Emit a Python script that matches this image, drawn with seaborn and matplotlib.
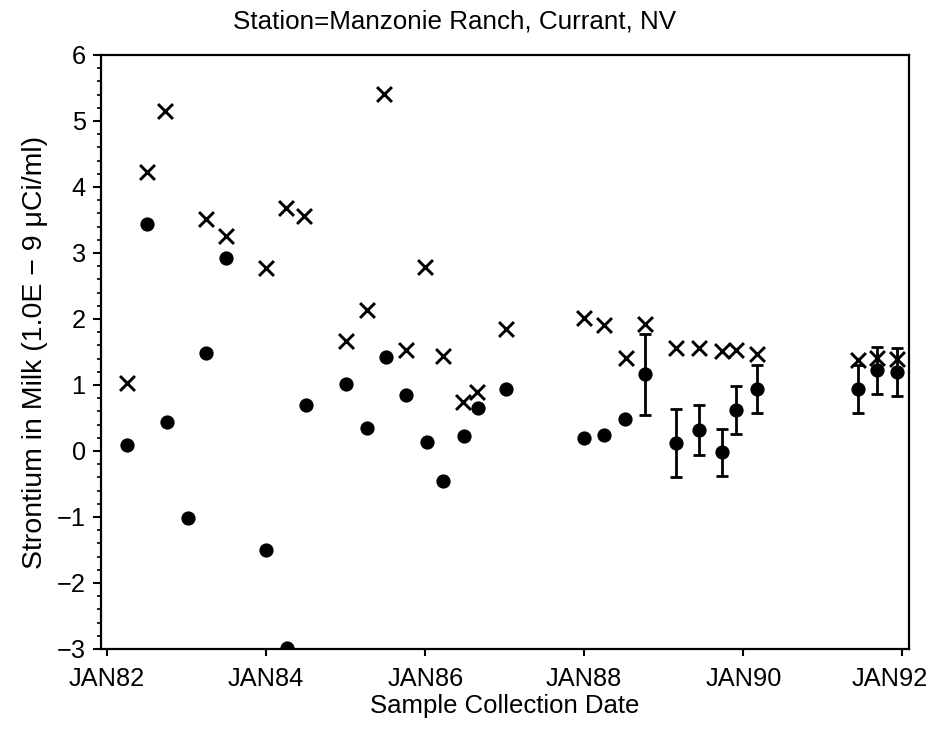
import numpy as np
import pandas as pd
import matplotlib
matplotlib.use("Agg")
import matplotlib.pyplot as plt
import matplotlib.dates as mdates
import matplotlib.transforms as mtransforms
from matplotlib.ticker import MultipleLocator, FixedLocator, FixedFormatter
import seaborn as sns

# Measured strontium concentration (dots); error given only for later samples
meas_dates = ["1982-04-01", "1982-07-01", "1982-10-01", "1983-01-08", "1983-04-01",
              "1983-07-01", "1984-01-01", "1984-04-05", "1984-07-01", "1985-01-01",
              "1985-04-08", "1985-07-05", "1985-10-05", "1986-01-08", "1986-03-25",
              "1986-06-28", "1986-09-01", "1987-01-05", "1988-01-01", "1988-04-01",
              "1988-07-08", "1988-10-08", "1989-02-24", "1989-06-13", "1989-09-27",
              "1989-11-28", "1990-03-03", "1991-06-13", "1991-09-09", "1991-12-08"]
meas_values = [0.09, 3.44, 0.44, -1.02, 1.49, 2.92, -1.50, -2.98, 0.70, 1.01,
               0.35, 1.42, 0.85, 0.14, -0.45, 0.23, 0.65, 0.94, 0.20, 0.24,
               0.49, 1.16, 0.12, 0.32, -0.02, 0.62, 0.94, 0.94, 1.22, 1.20]
meas_error = [np.nan] * 21 + [0.61, 0.51, 0.38, 0.36, 0.36, 0.36, 0.37, 0.36, 0.36]

# Minimum detectable activity for each sample (crosses)
mda_dates = ["1982-04-01", "1982-07-01", "1982-09-24", "1983-04-01", "1983-07-01",
             "1984-01-01", "1984-04-01", "1984-06-22", "1985-01-01", "1985-04-08",
             "1985-06-26", "1985-10-05", "1986-01-01", "1986-03-25", "1986-06-25",
             "1986-08-29", "1987-01-05", "1988-01-01", "1988-04-01", "1988-07-12",
             "1988-10-08", "1989-02-24", "1989-06-13", "1989-09-27", "1989-11-28",
             "1990-03-03", "1991-06-13", "1991-09-09", "1991-12-08"]
mda_values = [1.03, 4.23, 5.15, 3.52, 3.26, 2.77, 3.68, 3.56, 1.67, 2.13,
              5.41, 1.53, 2.79, 1.44, 0.74, 0.89, 1.85, 2.01, 1.91, 1.41,
              1.92, 1.56, 1.56, 1.51, 1.53, 1.47, 1.38, 1.41, 1.39]

tick_years = [1982, 1984, 1986, 1988, 1990, 1992]
tick_labels = ["JAN82", "JAN84", "JAN86", "JAN88", "JAN90", "JAN92"]

meas = pd.DataFrame({"date": pd.to_datetime(meas_dates), "value": meas_values,
                     "err": meas_error})
mda = pd.DataFrame({"date": pd.to_datetime(mda_dates), "value": mda_values})

sns.set_style("ticks")
plt.rcParams["font.family"] = ["Liberation Sans", "DejaVu Sans"]
plt.rcParams["axes.unicode_minus"] = True
plt.rcParams["text.color"] = "black"
plt.rcParams["axes.labelcolor"] = "black"

fig = plt.figure(figsize=(9.36, 7.33), dpi=100)
ax = fig.add_axes([101 / 936, 1 - 649 / 733, 808 / 936, 594 / 733])

sns.scatterplot(data=mda, x="date", y="value", marker="x", s=115,
                color="black", linewidth=2.1, ax=ax, zorder=3)
sns.scatterplot(data=meas, x="date", y="value", marker="o", s=105,
                color="black", edgecolor="black", linewidth=0, ax=ax, zorder=4)

with_err = meas.dropna(subset=["err"])
ax.errorbar(with_err["date"], with_err["value"], yerr=with_err["err"], fmt="none",
            ecolor="black", elinewidth=2.0, capsize=4, capthick=2.0, zorder=2)

ax.set_ylim(-3, 6)
ax.yaxis.set_major_locator(MultipleLocator(1))
ax.yaxis.set_minor_locator(MultipleLocator(0.2))

xmin = mdates.date2num(pd.Timestamp("1981-12-04"))
xmax = mdates.date2num(pd.Timestamp("1992-02-01"))
ax.set_xlim(xmin, xmax)
tick_pos = [mdates.date2num(pd.Timestamp(f"{y}-01-01")) for y in tick_years]
ax.xaxis.set_major_locator(FixedLocator(tick_pos))
ax.xaxis.set_major_formatter(FixedFormatter(tick_labels))

for side in ["top", "right", "bottom", "left"]:
    ax.spines[side].set_visible(True)
    ax.spines[side].set_linewidth(1.6)
    ax.spines[side].set_color("black")

ax.tick_params(axis="both", which="major", direction="out", length=6, width=1.5,
               labelsize=18.3, colors="black", pad=5)
ax.tick_params(axis="y", which="minor", direction="out", length=3, width=1.2,
               colors="black")
ax.tick_params(axis="x", which="major", length=5, pad=8)

# keep the last date label inside the figure
fig.canvas.draw()
last = ax.get_xticklabels()[-1]
last.set_transform(last.get_transform() +
                   mtransforms.ScaledTranslation(-0.13, 0, fig.dpi_scale_trans))

ax.set_xlabel("Sample Collection Date", fontsize=18.5, labelpad=2)
ax.set_ylabel("Strontium in Milk (1.0E \u2212 9 \u03bcCi/ml)", fontsize=20.5,
              labelpad=6)

fig.text(455 / 936, 1 - 21 / 733, "Station=Manzonie Ranch, Currant, NV",
         ha="center", va="center", fontsize=18.7)

fig.savefig("out.png", dpi=100, facecolor="white")
